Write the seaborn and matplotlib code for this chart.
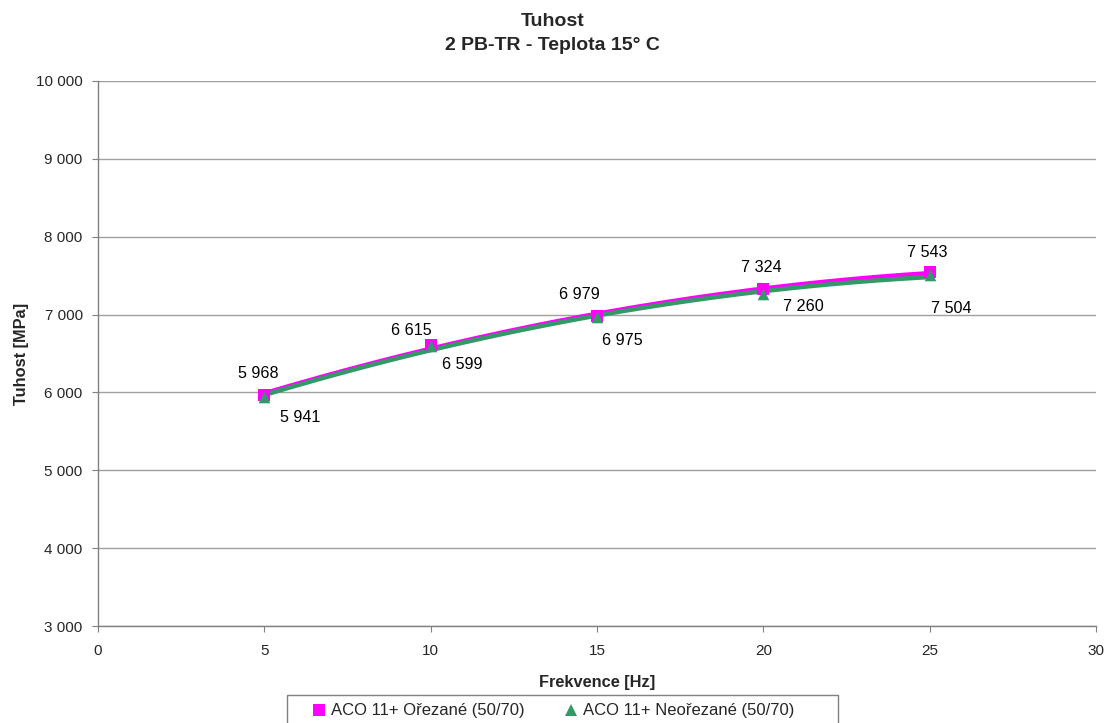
import numpy as np
import pandas as pd
import matplotlib
matplotlib.use("Agg")
import matplotlib.pyplot as plt
from matplotlib.ticker import FuncFormatter
from matplotlib.lines import Line2D
from matplotlib.patches import Rectangle
import seaborn as sns

# ---- data ----
frequency = [5, 10, 15, 20, 25]
series_names = ["ACO 11+ Ořezané (50/70)", "ACO 11+ Neořezané (50/70)"]
orezane = [5968, 6615, 6979, 7324, 7543]
neorezane = [5941, 6599, 6975, 7260, 7504]
x_ticks = [0, 5, 10, 15, 20, 25, 30]
y_ticks = [3000, 4000, 5000, 6000, 7000, 8000, 9000, 10000]

# label offsets (pixels) for data labels
off_orezane = [(-6, 21), (-19, 14), (-18, 22), (-2, 22), (-2, 20)]
off_neorezane = [(36, -20), (32, -19), (25, -24), (40, -12), (22, -33)]

colors = ["#FF00FF", "#339966"]
markers = ["s", "^"]

sns.set_style("white")
plt.rcParams["font.family"] = ["Liberation Sans", "DejaVu Sans"]

fig = plt.figure(figsize=(11.05, 7.23), dpi=100)
ax = fig.add_axes([98 / 1105, 1 - 626 / 723, (1096 - 98) / 1105, (626 - 81) / 723])

fmt = lambda v, p: f"{int(round(v)):,}".replace(",", " ")

rows = []
for name, vals in zip(series_names, [orezane, neorezane]):
    for f, v in zip(frequency, vals):
        rows.append({"Frekvence": f, "Tuhost": v, "series": name})
df = pd.DataFrame(rows)

# trend lines (polynomial fit of the data)
trend_rows = []
xs = np.linspace(min(frequency), max(frequency), 200)
for name, vals in zip(series_names, [orezane, neorezane]):
    coef = np.polyfit(frequency, vals, 2)
    for xv in xs:
        trend_rows.append({"Frekvence": xv, "Tuhost": np.polyval(coef, xv), "series": name})
tdf = pd.DataFrame(trend_rows)

sns.lineplot(data=tdf, x="Frekvence", y="Tuhost", hue="series", palette=colors,
             linewidth=3.2, legend=False, ax=ax, zorder=3)
for name, col, mk in zip(series_names, colors, markers):
    sub = df[df["series"] == name]
    sns.scatterplot(data=sub, x="Frekvence", y="Tuhost", color=col, marker=mk,
                    s=70, edgecolor=col, linewidth=0, ax=ax, zorder=4, legend=False)

for vals, offs in [(orezane, off_orezane), (neorezane, off_neorezane)]:
    for f, v, (dx, dy) in zip(frequency, vals, offs):
        ax.annotate(fmt(v, None), (f, v), xytext=(dx, dy), textcoords="offset pixels",
                    ha="center", va="center", fontsize=11.6, color="black")

ax.set_xlim(0, 30)
ax.set_ylim(3000, 10000)
ax.set_xticks(x_ticks)
ax.set_yticks(y_ticks)
ax.yaxis.set_major_formatter(FuncFormatter(fmt))
ax.grid(axis="y", color="#A0A0A0", linewidth=1)
ax.grid(axis="x", visible=False)
for s in ["top", "right"]:
    ax.spines[s].set_visible(False)
for s in ["left", "bottom"]:
    ax.spines[s].set_color("#808080")
    ax.spines[s].set_linewidth(1)
ax.tick_params(axis="both", direction="out", length=4, color="#808080",
               labelsize=11, left=True, bottom=True)
ax.tick_params(axis="x", pad=9)
ax.tick_params(axis="y", pad=7)
ax.set_xlabel("Frekvence [Hz]", fontsize=11.8, fontweight="bold", labelpad=12)
ax.set_ylabel("Tuhost [MPa]", fontsize=11.8, fontweight="bold", labelpad=5)
fig.text(0.5, 1 - 21 / 723, "Tuhost", ha="center", va="center",
         fontsize=14, fontweight="bold")
fig.text(0.5, 1 - 45 / 723, "2 PB-TR - Teplota 15° C", ha="center", va="center",
         fontsize=14, fontweight="bold")

handles = [Line2D([], [], linestyle="none", marker=m, color=c, markersize=8.5, markeredgewidth=0)
           for m, c in zip(markers, colors)]
leg = fig.legend(handles, series_names, loc="center", bbox_to_anchor=(0.499, 1 - 711 / 723),
                 ncol=2, frameon=False, fontsize=12, handletextpad=0.1,
                 columnspacing=2.2, handlelength=1.2, borderaxespad=0)

# legend box (extends past the bottom of the figure as in the reference)
fig.patches.append(Rectangle((287 / 1105, -0.02), (838 - 287) / 1105, 0.02 + 1 - 695 / 723,
                             transform=fig.transFigure, fill=False,
                             edgecolor="#808080", linewidth=1))

fig.savefig("out.png", dpi=100)
